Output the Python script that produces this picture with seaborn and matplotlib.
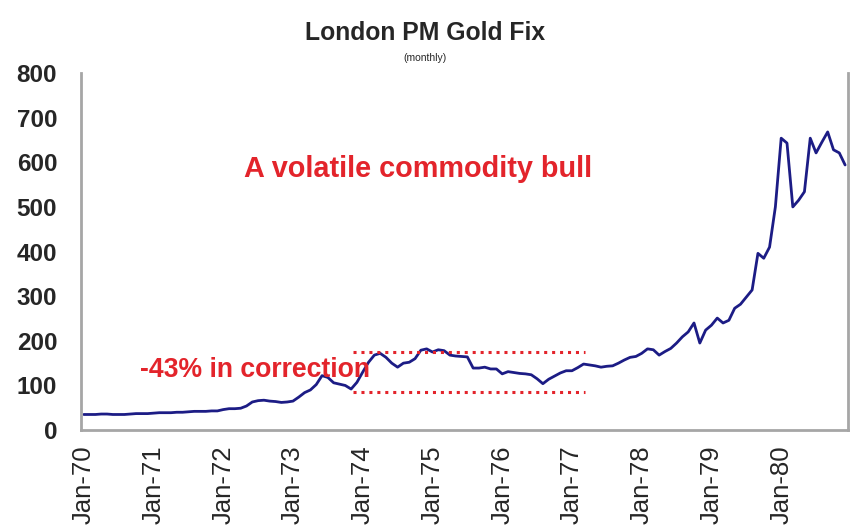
import numpy as np
import pandas as pd
import seaborn as sns
import matplotlib.pyplot as plt

# monthly London PM gold fix, Jan-70 .. Dec-80 (US$/oz)
gold_1970 = [35, 35, 35, 36, 36, 35, 35, 35, 36, 37, 37, 37]
gold_1971 = [38, 39, 39, 39, 40, 40, 41, 42, 42, 42, 43, 43]
gold_1972 = [46, 48, 48, 49, 54, 63, 66, 67, 65, 64, 62, 63]
gold_1973 = [65, 74, 84, 90, 102, 122, 118, 106, 103, 100, 92, 107]
gold_1974 = [130, 152, 168, 172, 163, 150, 141, 150, 152, 160, 179, 182]
gold_1975 = [175, 180, 178, 168, 166, 165, 164, 139, 139, 141, 137, 137]
gold_1976 = [126, 131, 129, 127, 126, 124, 115, 104, 114, 121, 128, 133]
gold_1977 = [133, 140, 148, 146, 144, 141, 143, 144, 150, 157, 163, 165]
gold_1978 = [172, 182, 180, 168, 176, 183, 195, 209, 220, 240, 195, 224]
gold_1979 = [235, 251, 240, 246, 273, 282, 298, 314, 396, 385, 410, 500]
gold_1980 = [654, 643, 500, 515, 534, 654, 621, 645, 668, 628, 621, 594]

years = ['70', '71', '72', '73', '74', '75', '76', '77', '78', '79', '80']
tick_labels = [f'Jan-{y}' for y in years]

# correction band (dotted red lines)
band_top = 175
band_bottom = 85
band_start = 46.3
band_end = 86.2

prices = (gold_1970 + gold_1971 + gold_1972 + gold_1973 + gold_1974 + gold_1975
          + gold_1976 + gold_1977 + gold_1978 + gold_1979 + gold_1980)
df = pd.DataFrame({'month': np.arange(len(prices)), 'price': prices})

sns.set_style('white')
plt.rcParams['font.family'] = ['Liberation Sans', 'DejaVu Sans']

fig = plt.figure(figsize=(8.51, 5.31), dpi=100)
ax = fig.add_axes([0.095, 0.19, 0.9015, 0.6725])

sns.lineplot(data=df, x='month', y='price', color='#1c1c85', linewidth=2.0, ax=ax)

red = '#e3242b'
ax.hlines([band_top, band_bottom], band_start, band_end, colors=red,
          linestyles=(0, (1, 1.6)), linewidth=2.2)

ax.text(57.5, 585, 'A volatile commodity bull', color=red, fontsize=20.8,
        fontweight='bold', ha='center', va='center')
ax.text(29.5, 134, '-43% in correction', color=red, fontsize=19.2,
        fontweight='bold', ha='center', va='center')

ax.set_xlim(-0.5, len(prices) - 0.5)
ax.set_ylim(0, 800)
ax.set_yticks(range(0, 801, 100))
ax.set_yticklabels([str(v) for v in range(0, 801, 100)], fontsize=17.5,
                   fontweight='bold')
ax.set_xticks(np.arange(0, len(prices), 12))
ax.set_xticklabels(tick_labels, rotation=90, fontsize=18.5)
ax.tick_params(axis='y', length=0, pad=17)
ax.tick_params(axis='x', length=0, pad=11)
ax.set_xlabel('')
ax.set_ylabel('')

for side in ['left', 'bottom', 'right']:
    ax.spines[side].set_color('#a6a6a6')
    ax.spines[side].set_linewidth(2)
ax.spines['top'].set_visible(False)

fig.text(0.5, 0.937, 'London PM Gold Fix', ha='center', va='center',
         fontsize=17.8, fontweight='bold')
fig.text(0.5, 0.89, '(monthly)', ha='center', va='center', fontsize=7.5)

fig.savefig('out.png', dpi=100)
plt.close(fig)
